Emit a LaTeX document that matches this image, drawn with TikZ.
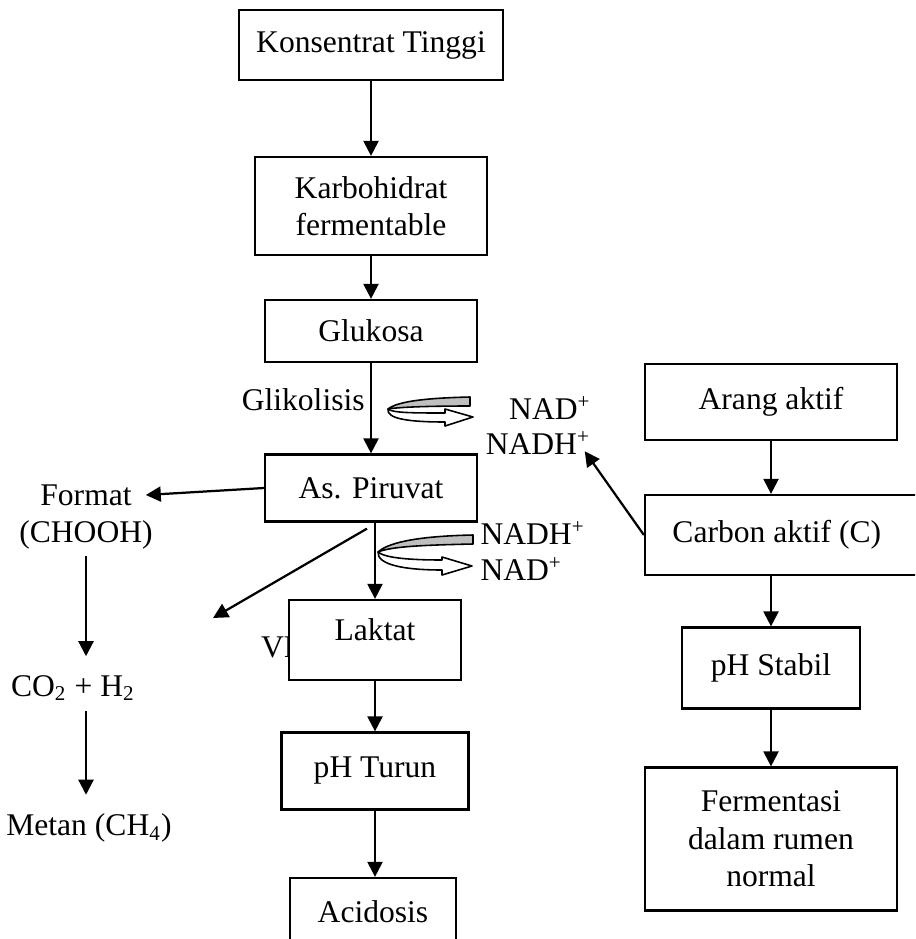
\documentclass[tikz,border=0pt]{standalone}
\usepackage{fontspec}
\setmainfont{Liberation Serif}
\usetikzlibrary{arrows.meta,positioning,calc}
\newcommand{\pxu}{0.38pt}

\begin{document}
\begin{tikzpicture}[x=\pxu,y=-\pxu,font=\fontsize{12}{14.2}\selectfont,
  box/.style={draw,line width=0.85pt,fill=white,align=center,inner sep=2pt},
  lbl/.style={inner sep=1pt,align=center},
  flow/.style={-{Triangle[length=5.7pt,width=5.7pt]},line width=0.85pt},
  band/.style={draw,line width=0.6pt,line join=round}]
  \useasboundingbox (0,0) rectangle (915,939);
  \clip (0,0) rectangle (915,939);

  % main column
  \node[box,minimum width=264*\pxu,minimum height=70*\pxu] (konsentrat) at (371,45) {Konsentrat Tinggi};
  \node[box,minimum width=232*\pxu,minimum height=98*\pxu] (karbo) at (371,206) {Karbohidrat\\fermentable};
  \node[box,minimum width=212*\pxu,minimum height=62*\pxu] (glukosa) at (371,331) {Glukosa};
  \node[box,minimum width=212*\pxu,minimum height=67*\pxu] (piruvat) at (371,488) {As. Piruvat};
  \node[lbl,anchor=west] (vfa) at (258,647) {VFA};
  \node[box,minimum width=172*\pxu,minimum height=80*\pxu] (laktat) at (375,640) {\raisebox{3.8pt}[\height][\depth]{Laktat}};
  \node[box,minimum width=187*\pxu,minimum height=77*\pxu] (turun) at (375,771) {pH Turun};
  \node[box,minimum width=166*\pxu,minimum height=68*\pxu] (acid) at (373,912) {Acidosis};

  % left branch
  \node[lbl] (format) at (86,517) {Format\\(CHOOH)};
  \node[lbl] (co2) at (73,688) {CO\textsubscript{2} + H\textsubscript{2}};
  \node[lbl] (metan) at (89,828) {Metan (CH\textsubscript{4})};
  \coordinate (vfaend) at (213,618);

  % right column
  \node[lbl] (dot) at (753,366) {.};
  \node[box,minimum width=252*\pxu,minimum height=76*\pxu] (arang) at (771,402) {Arang aktif};
  \node[box,minimum width=290*\pxu,minimum height=80*\pxu] (carbon) at (790,535) {Carbon aktif (C)\hspace{10pt}};
  \node[box,minimum width=178*\pxu,minimum height=81*\pxu] (stabil) at (771,668) {pH Stabil};
  \node[box,minimum width=252*\pxu,minimum height=143*\pxu] (fermen) at (771,839) {Fermentasi\\dalam rumen\\normal};

  % NAD labels
  \node[lbl,inner sep=0pt] (nadA) at (550,408) {NAD\textsuperscript{+}};
  \node[lbl,inner sep=0pt] (nadhA) at (538,443) {NADH\textsuperscript{+}};
  \node[lbl,anchor=west,inner sep=0pt] (nadhB) at (480,533) {NADH\textsuperscript{+}};
  \node[lbl,anchor=west,inner sep=0pt] (nadB) at (480,569) {NAD\textsuperscript{+}};

  % redox loops
  \path[band,fill=black!25] (388,409) .. controls (398,401) and (428,398) .. (470,397)
    -- (470,406) .. controls (430,406) and (400,407) .. (388,409) -- cycle;
  \path[band,fill=white] (388,409) .. controls (392,413) and (415,413) .. (445,413)
    -- (445,409) -- (473,417) -- (445,426) -- (445,422)
    .. controls (410,422) and (386,419) .. (388,409) -- cycle;
  \path[band,fill=black!25] (378,552) .. controls (390,541) and (425,536) .. (473,535)
    -- (473,544) .. controls (430,545) and (392,546) .. (378,552) -- cycle;
  \path[band,fill=white] (378,552) .. controls (385,558) and (410,560) .. (442,560)
    -- (442,557) -- (472,566) -- (442,575) -- (442,570)
    .. controls (405,570) and (377,565) .. (378,552) -- cycle;

  % arrows
  \draw[flow] (konsentrat) -- (karbo);
  \draw[flow] (karbo) -- (glukosa);
  \draw[flow] (glukosa) -- node[lbl,left=1pt,pos=0.4] (glikolisis) {Glikolisis} (piruvat);
  \draw[flow] (piruvat.south -| laktat.north) -- (laktat);
  \draw[flow] (laktat) -- (turun);
  \draw[flow] (turun.south) -- (turun.south |- acid.north);
  \draw[flow] (piruvat.west) -- ($(format.east)+(-10,-22)$);
  \draw[flow] ($(piruvat.south)+(-4,6)$) -- (vfaend);
  \draw[flow,shorten <=1.5pt,shorten >=6pt] (format.south) -- (format.south |- co2.north);
  \draw[flow,shorten <=2.5pt,shorten >=6pt] (format.south |- co2.south) -- (format.south |- metan.north);
  \draw[flow] (arang) -- (arang.south |- carbon.north);
  \draw[flow] (arang.south |- carbon.south) -- (stabil);
  \draw[flow] (stabil) -- (fermen);
  \draw[flow] (carbon.west) -- ($(nadhA.south east)+(-6,-4)$);
\end{tikzpicture}
\end{document}
